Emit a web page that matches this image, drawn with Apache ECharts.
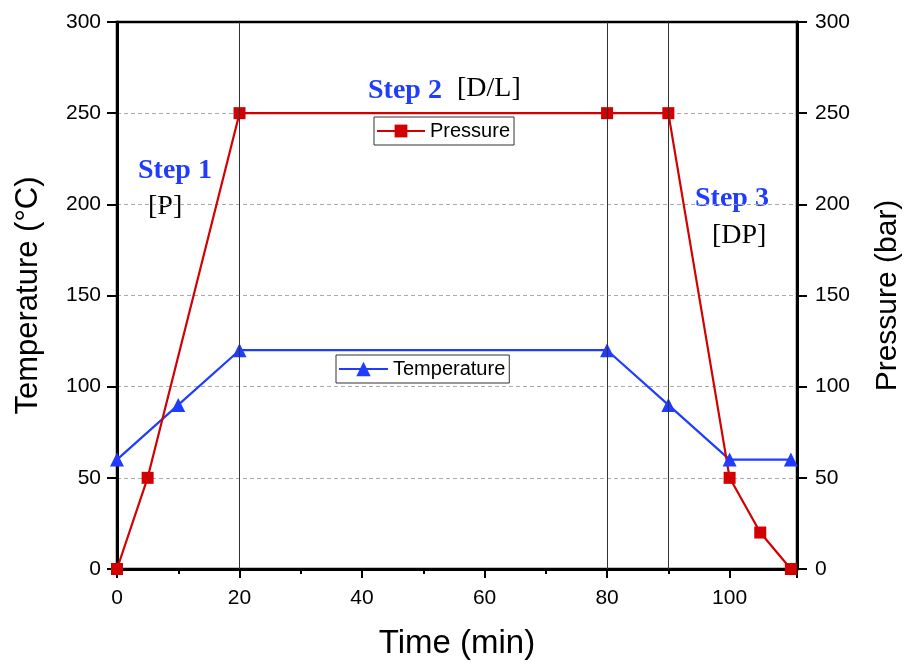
<!DOCTYPE html>
<html><head><meta charset="utf-8">
<script src="https://cdn.jsdelivr.net/npm/echarts@6/dist/echarts.min.js"></script>
<style>html,body{margin:0;padding:0;background:#fff}#c{width:905px;height:662px}</style>
</head><body><div id="c"></div>
<script>
const timeP = [0, 5, 20, 80, 90, 100, 105, 110];
const pressure = [0, 50, 250, 250, 250, 50, 20, 0];
const timeT = [0, 10, 20, 80, 90, 100, 110];
const temperature = [60, 90, 120, 120, 90, 60, 60];
const stepLines = [20, 80, 90];
const yTicks = [0, 50, 100, 150, 200, 250, 300];

const RED = '#d20000', BLUE = '#1f3cff';
const F = 'Liberation Sans, Arial, sans-serif';
const S = 'Liberation Serif, Times New Roman, serif';

const chart = echarts.init(document.getElementById('c'));
const yAxisBase = {
  type: 'value', min: yTicks[0], max: yTicks[yTicks.length-1], interval: 50,
  axisLine: {show: true, lineStyle: {color: '#000', width: 3}},
  axisTick: {show: true, inside: false, length: 10, lineStyle: {color: '#000', width: 2}},
  axisLabel: {color: '#000', fontSize: 21, fontFamily: F},
  nameLocation: 'middle', nameTextStyle: {fontFamily: F, color: '#000'}
};
chart.setOption({
  animation: false,
  grid: {left: 117, right: 108, top: 22, bottom: 93, show: true, borderColor: '#000', borderWidth: 2.5,
    containLabel: false, outerBoundsMode: 'none'},
  xAxis: {
    type: 'value', min: 0, max: 111, interval: 20,
    name: 'Time (min)', nameLocation: 'middle', nameGap: 58,
    nameTextStyle: {fontSize: 33, fontFamily: F, color: '#000'},
    axisLine: {show: true, onZero: false, lineStyle: {color: '#000', width: 3}},
    axisTick: {show: true, length: 9, lineStyle: {color: '#000', width: 2}},
    minorTick: {show: true, splitNumber: 2, length: 5, lineStyle: {color: '#000', width: 2}},
    axisLabel: {color: '#000', fontSize: 21, fontFamily: F, margin: 19,
      formatter: v => (v % 20 === 0 ? String(v) : '')},
    splitLine: {show: false}
  },
  yAxis: [
    Object.assign({}, yAxisBase, {position: 'left', name: 'Temperature (°C)', nameGap: 73,
      nameTextStyle: {fontSize: 31, fontFamily: F, color: '#000'},
      axisLabel: {color: '#000', fontSize: 21, fontFamily: F, margin: 16},
      splitLine: {show: true, showMinLine: false, showMaxLine: false,
        lineStyle: {color: '#aaa', type: [4, 3], width: 1}}}),
    Object.assign({}, yAxisBase, {position: 'right', name: 'Pressure (bar)', nameGap: 76,
      nameRotate: 90, nameTextStyle: {fontSize: 30, fontFamily: F, color: '#000'},
      axisLabel: {color: '#000', fontSize: 21, fontFamily: F, margin: 18},
      splitLine: {show: false}})
  ],
  legend: [
    {data: ['Pressure'], left: 374, top: 117, orient: 'vertical', borderColor: '#333', borderWidth: 1,
      padding: [4, 4, 4, 2], itemWidth: 48, itemHeight: 16, itemGap: 4,
      textStyle: {fontSize: 20, fontFamily: F, color: '#000'}},
    {data: ['Temperature'], left: 336, top: 355, orient: 'vertical', borderColor: '#333', borderWidth: 1,
      padding: [4, 4, 4, 2], itemWidth: 49, itemHeight: 18, itemGap: 4,
      textStyle: {fontSize: 20, fontFamily: F, color: '#000'}}
  ],
  series: [
    {
      name: 'Temperature', type: 'line', yAxisIndex: 0,
      data: timeT.map((t, i) => [t, temperature[i]]),
      symbol: 'triangle', symbolSize: 14, color: BLUE,
      lineStyle: {color: BLUE, width: 2.2}, itemStyle: {color: BLUE},
      markLine: {silent: true, symbol: 'none', label: {show: false},
        lineStyle: {color: '#333', width: 1, type: 'solid'},
        data: stepLines.map(x => ({xAxis: x}))}
    },
    {
      name: 'Pressure', type: 'line', yAxisIndex: 1,
      data: timeP.map((t, i) => [t, pressure[i]]),
      symbol: 'rect', symbolSize: 12, color: RED,
      lineStyle: {color: RED, width: 2.2}, itemStyle: {color: RED}
    }
  ],
  graphic: [
    {type: 'text', left: 138, top: 157, style: {text: 'Step 1', fill: BLUE, font: 'bold 28px ' + S}},
    {type: 'text', left: 148, top: 193, style: {text: '[P]', fill: '#000', font: '28px ' + S}},
    {type: 'text', left: 368, top: 77, style: {text: 'Step 2', fill: BLUE, font: 'bold 28px ' + S}},
    {type: 'text', left: 457, top: 75, style: {text: '[D/L]', fill: '#000', font: '28px ' + S}},
    {type: 'text', left: 695, top: 185, style: {text: 'Step 3', fill: BLUE, font: 'bold 28px ' + S}},
    {type: 'text', left: 712, top: 222, style: {text: '[DP]', fill: '#000', font: '28px ' + S}}
  ]
});
</script></body></html>
